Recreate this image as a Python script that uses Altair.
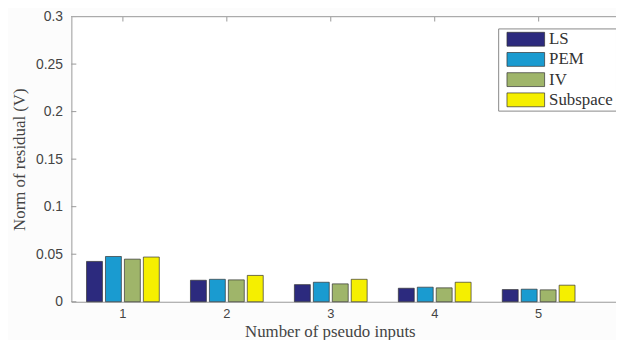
import altair as alt
import pandas as pd

groups = ["1", "2", "3", "4", "5"]
methods = ["LS", "PEM", "IV", "Subspace"]
ls_vals = [0.0424, 0.0226, 0.0180, 0.0142, 0.0128]
pem_vals = [0.0476, 0.0236, 0.0205, 0.0153, 0.0132]
iv_vals = [0.0448, 0.0230, 0.0188, 0.0146, 0.0125]
sub_vals = [0.0470, 0.0277, 0.0236, 0.0205, 0.0174]
colors = ["#2c2a7e", "#1a9bd0", "#9fb56a", "#f5ef00"]
y_ticks = [0, 0.05, 0.1, 0.15, 0.2, 0.25, 0.3]

rows = []
for m, vals in zip(methods, [ls_vals, pem_vals, iv_vals, sub_vals]):
    for g, v in zip(groups, vals):
        rows.append({"group": g, "method": m, "value": v})
df = pd.DataFrame(rows)
tick_df = pd.DataFrame({"v": y_ticks})
cat_df = pd.DataFrame({"group": groups})

W, H = 550, 288
serif = "Liberation Serif"
sans = "Liberation Sans"

xscale = alt.Scale(domain=groups, paddingInner=0.3, paddingOuter=0.27, align=0.27)
yscale = alt.Scale(domain=[0, 0.3], nice=False)

bars = alt.Chart(df).mark_bar(stroke="#333333", strokeWidth=0.7).encode(
    x=alt.X("group:N", scale=xscale, sort=groups,
            axis=alt.Axis(title="Number of pseudo inputs", labelAngle=0, labelFont=sans,
                          labelFontSize=13, labelColor="#444444", labelPadding=6,
                          tickSize=0, domainColor="#999999", titleFont=serif,
                          titleFontSize=17, titleFontWeight="normal", titleColor="#444444",
                          titleX=261, titleY=35, titleBaseline="alphabetic")),
    xOffset=alt.XOffset("method:N", sort=methods, scale=alt.Scale(paddingInner=0.16)),
    y=alt.Y("value:Q", scale=yscale,
            axis=alt.Axis(title="Norm of residual (V)", values=y_ticks, format=".2~f",
                          labelFont=sans, labelFontSize=14, labelColor="#444444",
                          labelPadding=9, tickSize=0, domainColor="#999999", grid=False,
                          titleFont=serif, titleFontSize=17, titleFontWeight="normal",
                          titleColor="#444444", titleX=-52, titleY=144,
                          titleAlign="center", titleBaseline="middle")),
    color=alt.Color("method:N", sort=methods,
                    scale=alt.Scale(domain=methods, range=colors),
                    legend=alt.Legend(title=None, orient="none", legendX=431, legendY=12,
                                      strokeColor="#888888", fillColor="white", padding=2.4,
                                      labelFont=serif, labelFontSize=17, labelColor="#333333",
                                      symbolType="M-1,-0.368H1V0.368H-1Z", symbolSize=1444,
                                      symbolStrokeColor="#333333", symbolStrokeWidth=0.7,
                                      symbolOpacity=1, symbolOffset=6, labelOffset=4,
                                      clipHeight=17, rowPadding=2.4)),
)

yticks = alt.Chart(tick_df).mark_rule(color="#999999", strokeWidth=1).encode(
    y=alt.Y("v:Q", scale=yscale), x=alt.value(0), x2=alt.value(5)
)
top_ticks = alt.Chart(cat_df).mark_rule(color="#999999", strokeWidth=1).encode(
    x=alt.X("group:N", scale=xscale, sort=groups), y=alt.value(0), y2=alt.value(5)
)
top_border = alt.Chart(cat_df).mark_rule(color="#aaaaaa", strokeWidth=1).encode(
    x=alt.value(0), x2=alt.value(W), y=alt.value(0)
)

chart = alt.layer(bars, yticks, top_ticks, top_border).properties(
    width=W, height=H, autosize="none",
    padding={"left": 64, "top": 7, "right": 0, "bottom": 37},
    background="#fcfcfc",
).configure_view(stroke=None, fill="white")

chart.save("out.html", embed_options={"renderer": "svg", "actions": False})
